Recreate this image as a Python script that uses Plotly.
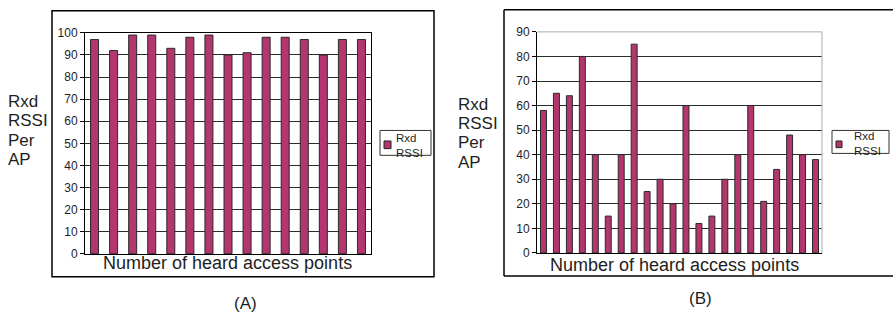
import plotly.graph_objects as go

W, H = 893, 325

# ---- data ----
cats_a = [str(i) for i in range(1, 16)]
rssi_a = [97, 92, 99, 99, 93, 98, 99, 90, 91, 98, 98, 97, 90, 97, 97]
cats_b = [str(i) for i in range(1, 23)]
rssi_b = [58, 65, 64, 80, 40, 15, 40, 85, 25, 30, 20, 60, 12, 15, 30, 40, 60, 21, 34, 48, 40, 38]
ticks_a = list(range(0, 101, 10))
ticks_b = list(range(0, 91, 10))
series_name = "Rxd RSSI"
y_title_lines = ["Rxd", "RSSI", "Per", "AP"]
x_title = "Number of heard access points"

BAR = "#b3366f"
TXT = "#1e1e1e"
FONT = "Liberation Sans, Arial, sans-serif"


def px(x):
    return x / W


def py(y):
    return 1 - y / H


fig = go.Figure()
fig.add_trace(go.Bar(x=cats_a, y=rssi_a, name=series_name, marker=dict(color=BAR, line=dict(color="#2a2a2a", width=1)),
                     width=0.42, xaxis="x", yaxis="y", showlegend=False))
fig.add_trace(go.Bar(x=cats_b, y=rssi_b, name=series_name, marker=dict(color=BAR, line=dict(color="#2a2a2a", width=1)),
                     width=0.46, xaxis="x2", yaxis="y2", showlegend=False))

axfont = dict(family=FONT, size=12, color=TXT)
fig.update_layout(
    width=W, height=H, margin=dict(l=0, r=0, t=0, b=0),
    paper_bgcolor="white", plot_bgcolor="white",
    font=dict(family=FONT, color=TXT),
    xaxis=dict(domain=[px(85), px(371)], anchor="y", showticklabels=False, ticks="",
               showline=True, linecolor="black", linewidth=1, mirror=True, showgrid=False,
               range=[-0.5, 14.5]),
    yaxis=dict(domain=[py(258), py(27)], anchor="x", range=[0, 100], tickvals=ticks_a,
               ticks="outside", ticklen=4, tickcolor="black", tickfont=axfont,
               showline=True, linecolor="black", linewidth=1, mirror=True,
               showgrid=True, gridcolor="#2b2b2b", gridwidth=1, zeroline=False),
    xaxis2=dict(domain=[px(537), px(822)], anchor="y2", showticklabels=False, ticks="",
                showline=True, linecolor="black", linewidth=1, showgrid=False,
                range=[-0.5, 21.5]),
    yaxis2=dict(domain=[py(257), py(26)], anchor="x2", range=[0, 90], tickvals=ticks_b,
                ticks="outside", ticklen=4, tickcolor="black", tickfont=axfont,
                showline=True, linecolor="black", linewidth=1,
                showgrid=True, gridcolor="#2b2b2b", gridwidth=1, zeroline=False),
)

shapes = []
# outer frames
shapes.append(dict(type="rect", xref="paper", yref="paper", x0=px(52), x1=px(434), y0=py(282), y1=py(4),
                   line=dict(color="black", width=1.5)))
shapes.append(dict(type="line", xref="paper", yref="paper", x0=px(504), x1=px(893), y0=py(3), y1=py(3),
                   line=dict(color="black", width=1.5)))
shapes.append(dict(type="line", xref="paper", yref="paper", x0=px(893), x1=px(504), y0=py(281), y1=py(281),
                   line=dict(color="black", width=1.5)))
shapes.append(dict(type="line", xref="paper", yref="paper", x0=px(504), x1=px(504), y0=py(281), y1=py(3),
                   line=dict(color="black", width=1.5)))
# panel B plot-area top/right light border
shapes.append(dict(type="line", xref="paper", yref="paper", x0=px(537), x1=px(822), y0=py(26), y1=py(26),
                   line=dict(color="#aaaaaa", width=1)))
shapes.append(dict(type="line", xref="paper", yref="paper", x0=px(822), x1=px(822), y0=py(26), y1=py(257),
                   line=dict(color="#aaaaaa", width=1)))
# legend boxes
for (bx0, bx1, by0, by1, mx0, mx1, my0, my1) in [
    (380, 431, 129, 155, 384, 391, 140, 148),
    (832, 889, 129, 153, 836, 842, 140, 147),
]:
    shapes.append(dict(type="rect", xref="paper", yref="paper", x0=px(bx0), x1=px(bx1), y0=py(by1), y1=py(by0),
                       line=dict(color="#333333", width=1), fillcolor="rgba(0,0,0,0)", layer="above"))
    shapes.append(dict(type="rect", xref="paper", yref="paper", x0=px(mx0), x1=px(mx1), y0=py(my1), y1=py(my0),
                       line=dict(color="#222222", width=1), fillcolor=BAR))

annotations = []
# y titles, one line each (20 px line pitch)
for xl, y0 in [(6, 99), (456, 102)]:
    for i, line in enumerate(y_title_lines):
        annotations.append(dict(text=line, xref="paper", yref="paper", x=px(xl), y=py(y0 + 20 * i),
                                xanchor="left", yanchor="middle", align="left", showarrow=False,
                                font=dict(family=FONT, size=17, color=TXT)))
# x titles
for xc, yc in [(227, 268), (674, 270)]:
    annotations.append(dict(text=x_title, xref="paper", yref="paper", x=px(xc), y=py(yc),
                            xanchor="center", yanchor="middle", showarrow=False,
                            font=dict(family=FONT, size=18, color=TXT)))
# panel labels
for t, xc, yc in [("(A)", 245, 310), ("(B)", 700, 305)]:
    annotations.append(dict(text=t, xref="paper", yref="paper", x=px(xc), y=py(yc),
                            xanchor="center", yanchor="middle", showarrow=False,
                            font=dict(family=FONT, size=17, color=TXT)))
# legend text
for xl, yc in [(394, 145), (852, 143)]:
    annotations.append(dict(text=series_name.replace(" ", "<br>"), xref="paper", yref="paper", x=px(xl), y=py(yc),
                            xanchor="left", yanchor="middle", align="left", showarrow=False,
                            font=dict(family=FONT, size=11.5, color=TXT)))

fig.update_layout(shapes=shapes, annotations=annotations)
fig.write_html("out.html")
